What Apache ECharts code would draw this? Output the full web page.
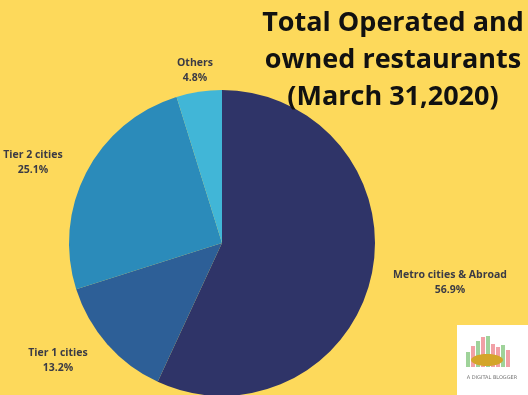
<!DOCTYPE html>
<html><head><meta charset="utf-8">
<script src="https://cdn.jsdelivr.net/npm/echarts@6/dist/echarts.min.js"></script>
<style>html,body{margin:0;padding:0;background:#FDD95B;}#c{width:528px;height:395px;}</style>
</head><body><div id="c"></div>
<script>
const categories = ["Metro cities & Abroad", "Tier 1 cities", "Tier 2 cities", "Others"];
const shares = [56.9, 13.2, 25.1, 4.8];
const sliceColors = ["#2F3468", "#2D5F97", "#2B8BBA", "#41B6D7"];
const titleLines = ["Total Operated and", "owned restaurants", "(March 31,2020)"];
const labelPos = {
  "Metro cities & Abroad": [450, 283],
  "Tier 1 cities": [58, 361],
  "Tier 2 cities": [33, 163],
  "Others": [195, 71]
};
const chart = echarts.init(document.getElementById('c'));
chart.setOption({
  backgroundColor: '#FDD95B',
  animation: false,
  title: {
    text: titleLines.join('\n'),
    left: 388, top: 0, textAlign: 'center',
    textStyle: { fontFamily: 'Open Sans', fontWeight: 'bold', fontSize: 27, lineHeight: 37, color: '#111' }
  },
  series: [{
    type: 'pie',
    center: [222, 243],
    radius: [0, 153],
    startAngle: 90,
    clockwise: true,
    silent: true,
    data: categories.map((c, i) => ({ name: c, value: shares[i], itemStyle: { color: sliceColors[i] } })),
    label: {
      show: true,
      formatter: p => p.name + '\n' + p.value.toFixed(1) + '%',
      fontFamily: 'Open Sans', fontWeight: 'bold', fontSize: 10.5, lineHeight: 15,
      color: '#3b3b45', align: 'center', overflow: 'none', width: 200
    },
    labelLine: { show: false },
    labelLayout: p => {
      const pos = labelPos[categories[p.dataIndex]];
      return { x: pos[0], y: pos[1], align: 'center', verticalAlign: 'middle' };
    }
  }],
  graphic: [
    { type: 'rect', shape: { x: 457, y: 325, width: 71, height: 70 }, style: { fill: '#ffffff' } },
    { type: 'group', children: [
      { type: 'rect', shape: { x: 466, y: 352, width: 4, height: 15 }, style: { fill: '#9fd39a' } },
      { type: 'rect', shape: { x: 471, y: 346, width: 4, height: 21 }, style: { fill: '#f1a0a6' } },
      { type: 'rect', shape: { x: 476, y: 341, width: 4, height: 26 }, style: { fill: '#9fd39a' } },
      { type: 'rect', shape: { x: 481, y: 337, width: 4, height: 30 }, style: { fill: '#f1a0a6' } },
      { type: 'rect', shape: { x: 486, y: 336, width: 4, height: 31 }, style: { fill: '#9fd39a' } },
      { type: 'rect', shape: { x: 491, y: 344, width: 4, height: 23 }, style: { fill: '#f1a0a6' } },
      { type: 'rect', shape: { x: 496, y: 347, width: 4, height: 20 }, style: { fill: '#f1a0a6' } },
      { type: 'rect', shape: { x: 501, y: 345, width: 4, height: 22 }, style: { fill: '#9fd39a' } },
      { type: 'rect', shape: { x: 506, y: 350, width: 4, height: 17 }, style: { fill: '#f1a0a6' } },
      { type: 'ellipse', shape: { cx: 487, cy: 360, rx: 16, ry: 6 }, style: { fill: '#d4a52a' } },
      { type: 'text', style: { x: 492, y: 378, text: 'A DIGITAL BLOGGER', fontSize: 5, fill: '#777', align: 'center', verticalAlign: 'middle', fontFamily: 'DejaVu Sans' } }
    ]}
  ]
});
</script></body></html>
